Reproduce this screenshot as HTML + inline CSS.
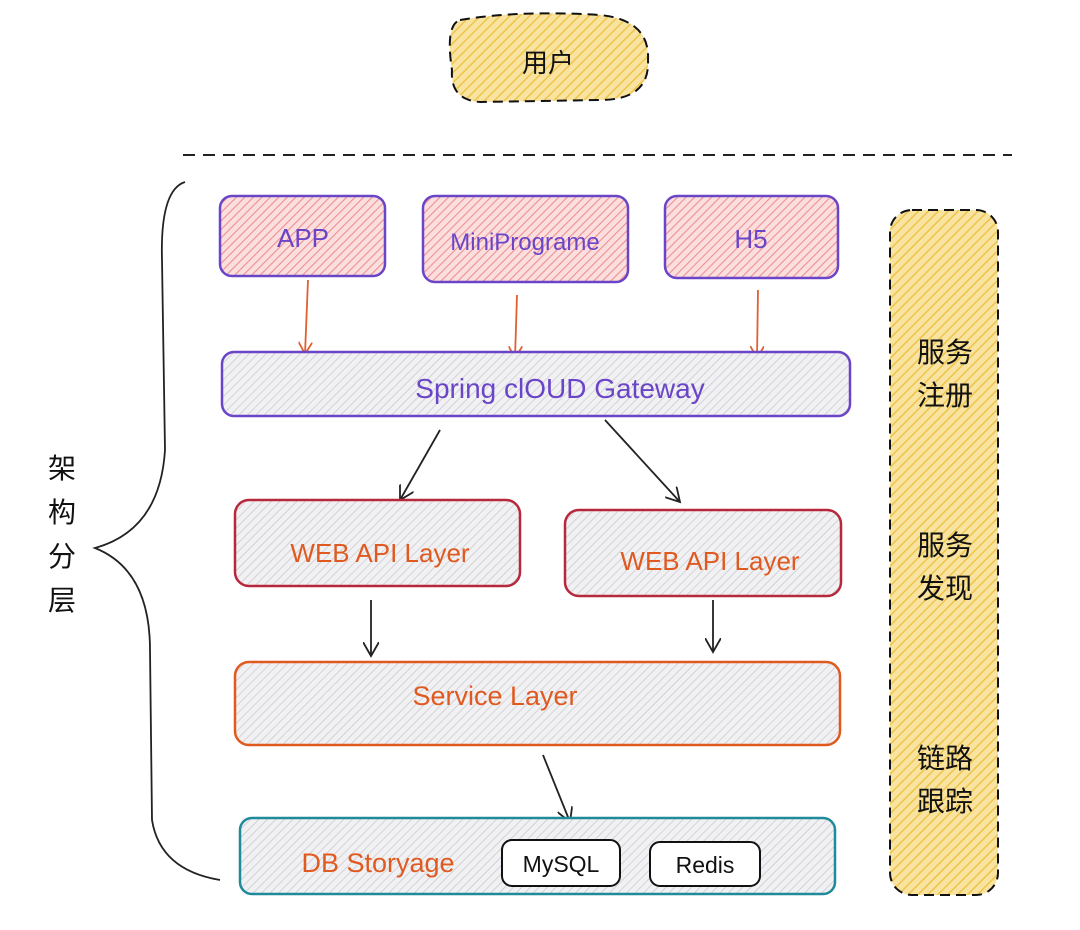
<!DOCTYPE html>
<html><head><meta charset="utf-8"><style>
html,body{margin:0;padding:0;background:#fff;width:1080px;height:930px;overflow:hidden}
svg{display:block}
text{font-family:"Liberation Sans","Noto Sans CJK SC",sans-serif}
</style></head><body>
<svg width="1080" height="930" viewBox="0 0 1080 930" xmlns="http://www.w3.org/2000/svg">
<defs>
<pattern id="hr" width="6" height="6" patternUnits="userSpaceOnUse" patternTransform="rotate(45)"><rect width="6" height="6" fill="#fbdede"/><line x1="0" y1="0" x2="0" y2="6" stroke="#ee9090" stroke-width="2.2"/></pattern>
<pattern id="hg" width="6" height="6" patternUnits="userSpaceOnUse" patternTransform="rotate(45)"><rect width="6" height="6" fill="#f1f1f3"/><line x1="0" y1="0" x2="0" y2="6" stroke="#c8c9ce" stroke-width="1.5"/></pattern>
<pattern id="hy" width="7" height="7" patternUnits="userSpaceOnUse" patternTransform="rotate(45)"><rect width="7" height="7" fill="#f8e3a0"/><line x1="0" y1="0" x2="0" y2="7" stroke="#efc44a" stroke-width="3"/></pattern>
<marker id="ao" markerWidth="14" markerHeight="14" refX="12" refY="7" orient="auto" markerUnits="userSpaceOnUse"><path d="M0,0 L12,7 L0,14" fill="none" stroke="#e06030" stroke-width="1.8"/></marker>
<marker id="ab" markerWidth="16" markerHeight="16" refX="14" refY="8" orient="auto" markerUnits="userSpaceOnUse"><path d="M0,0 L14,8 L0,16" fill="none" stroke="#222" stroke-width="1.8"/></marker>
</defs>
<path d="M460,20 Q520,10 600,15 Q650,20 648,60 Q650,100 600,100 L480,102 Q450,100 452,70 Q445,25 460,20Z" fill="url(#hy)" stroke="#111" stroke-width="2" stroke-dasharray="10,6"/>
<text x="548" y="72" font-size="26" text-anchor="middle" fill="#111">用户</text>
<line x1="183" y1="155" x2="1012" y2="155" stroke="#222" stroke-width="2" stroke-dasharray="12,8"/>
<path d="M185,182 Q160,190 162,260 L165,450 Q160,530 95,548 Q150,570 150,650 L152,820 Q160,870 220,880" fill="none" stroke="#222" stroke-width="1.8"/>
<text font-size="28" fill="#111" text-anchor="middle"><tspan x="62" y="478">架</tspan><tspan x="62" y="522">构</tspan><tspan x="62" y="566">分</tspan><tspan x="62" y="610">层</tspan></text>
<rect x="220" y="196" width="165" height="80" rx="12" fill="url(#hr)" stroke="#6a45c8" stroke-width="2.5"/>
<text x="303" y="247" font-size="26" text-anchor="middle" fill="#6a45c8">APP</text>
<rect x="423" y="196" width="205" height="86" rx="12" fill="url(#hr)" stroke="#6a45c8" stroke-width="2.5"/>
<text x="525" y="250" font-size="24" text-anchor="middle" fill="#6a45c8">MiniPrograme</text>
<rect x="665" y="196" width="173" height="82" rx="12" fill="url(#hr)" stroke="#6a45c8" stroke-width="2.5"/>
<text x="751" y="248" font-size="26" text-anchor="middle" fill="#6a45c8">H5</text>
<line x1="308" y1="280" x2="305" y2="354" stroke="#e06030" stroke-width="1.8" marker-end="url(#ao)"/>
<line x1="517" y1="295" x2="515" y2="358" stroke="#e06030" stroke-width="1.8" marker-end="url(#ao)"/>
<line x1="758" y1="290" x2="757" y2="358" stroke="#e06030" stroke-width="1.8" marker-end="url(#ao)"/>
<rect x="222" y="352" width="628" height="64" rx="12" fill="url(#hg)" stroke="#6a45c8" stroke-width="2.5"/>
<text x="560" y="398" font-size="28" text-anchor="middle" fill="#6a45c8">Spring clOUD Gateway</text>
<line x1="440" y1="430" x2="400" y2="500" stroke="#222" stroke-width="1.8" marker-end="url(#ab)"/>
<line x1="605" y1="420" x2="680" y2="502" stroke="#222" stroke-width="1.8" marker-end="url(#ab)"/>
<rect x="235" y="500" width="285" height="86" rx="14" fill="url(#hg)" stroke="#b8283c" stroke-width="2.5"/>
<text x="380" y="562" font-size="26" text-anchor="middle" fill="#e05a20">WEB API Layer</text>
<rect x="565" y="510" width="276" height="86" rx="14" fill="url(#hg)" stroke="#b8283c" stroke-width="2.5"/>
<text x="710" y="570" font-size="26" text-anchor="middle" fill="#e05a20">WEB API Layer</text>
<line x1="371" y1="600" x2="371" y2="656" stroke="#222" stroke-width="1.8" marker-end="url(#ab)"/>
<line x1="713" y1="600" x2="713" y2="652" stroke="#222" stroke-width="1.8" marker-end="url(#ab)"/>
<rect x="235" y="662" width="605" height="83" rx="14" fill="url(#hg)" stroke="#e05a20" stroke-width="2.5"/>
<text x="495" y="705" font-size="27" text-anchor="middle" fill="#e05a20">Service Layer</text>
<line x1="543" y1="755" x2="570" y2="822" stroke="#222" stroke-width="1.8" marker-end="url(#ab)"/>
<rect x="240" y="818" width="595" height="76" rx="12" fill="url(#hg)" stroke="#1f8a9a" stroke-width="2.5"/>
<text x="378" y="872" font-size="27" text-anchor="middle" fill="#e05a20">DB Storyage</text>
<rect x="502" y="840" width="118" height="46" rx="10" fill="#fff" stroke="#111" stroke-width="2"/>
<text x="561" y="872" font-size="23" text-anchor="middle" fill="#111">MySQL</text>
<rect x="650" y="842" width="110" height="44" rx="10" fill="#fff" stroke="#111" stroke-width="2"/>
<text x="705" y="873" font-size="23" text-anchor="middle" fill="#111">Redis</text>
<rect x="890" y="210" width="108" height="685" rx="22" fill="url(#hy)" stroke="#111" stroke-width="2" stroke-dasharray="10,6"/>
<g font-size="28" fill="#111" text-anchor="middle">
<text x="945" y="362">服务</text><text x="945" y="405">注册</text>
<text x="945" y="555">服务</text><text x="945" y="598">发现</text>
<text x="945" y="768">链路</text><text x="945" y="811">跟踪</text>
</g>
</svg>
</body></html>
